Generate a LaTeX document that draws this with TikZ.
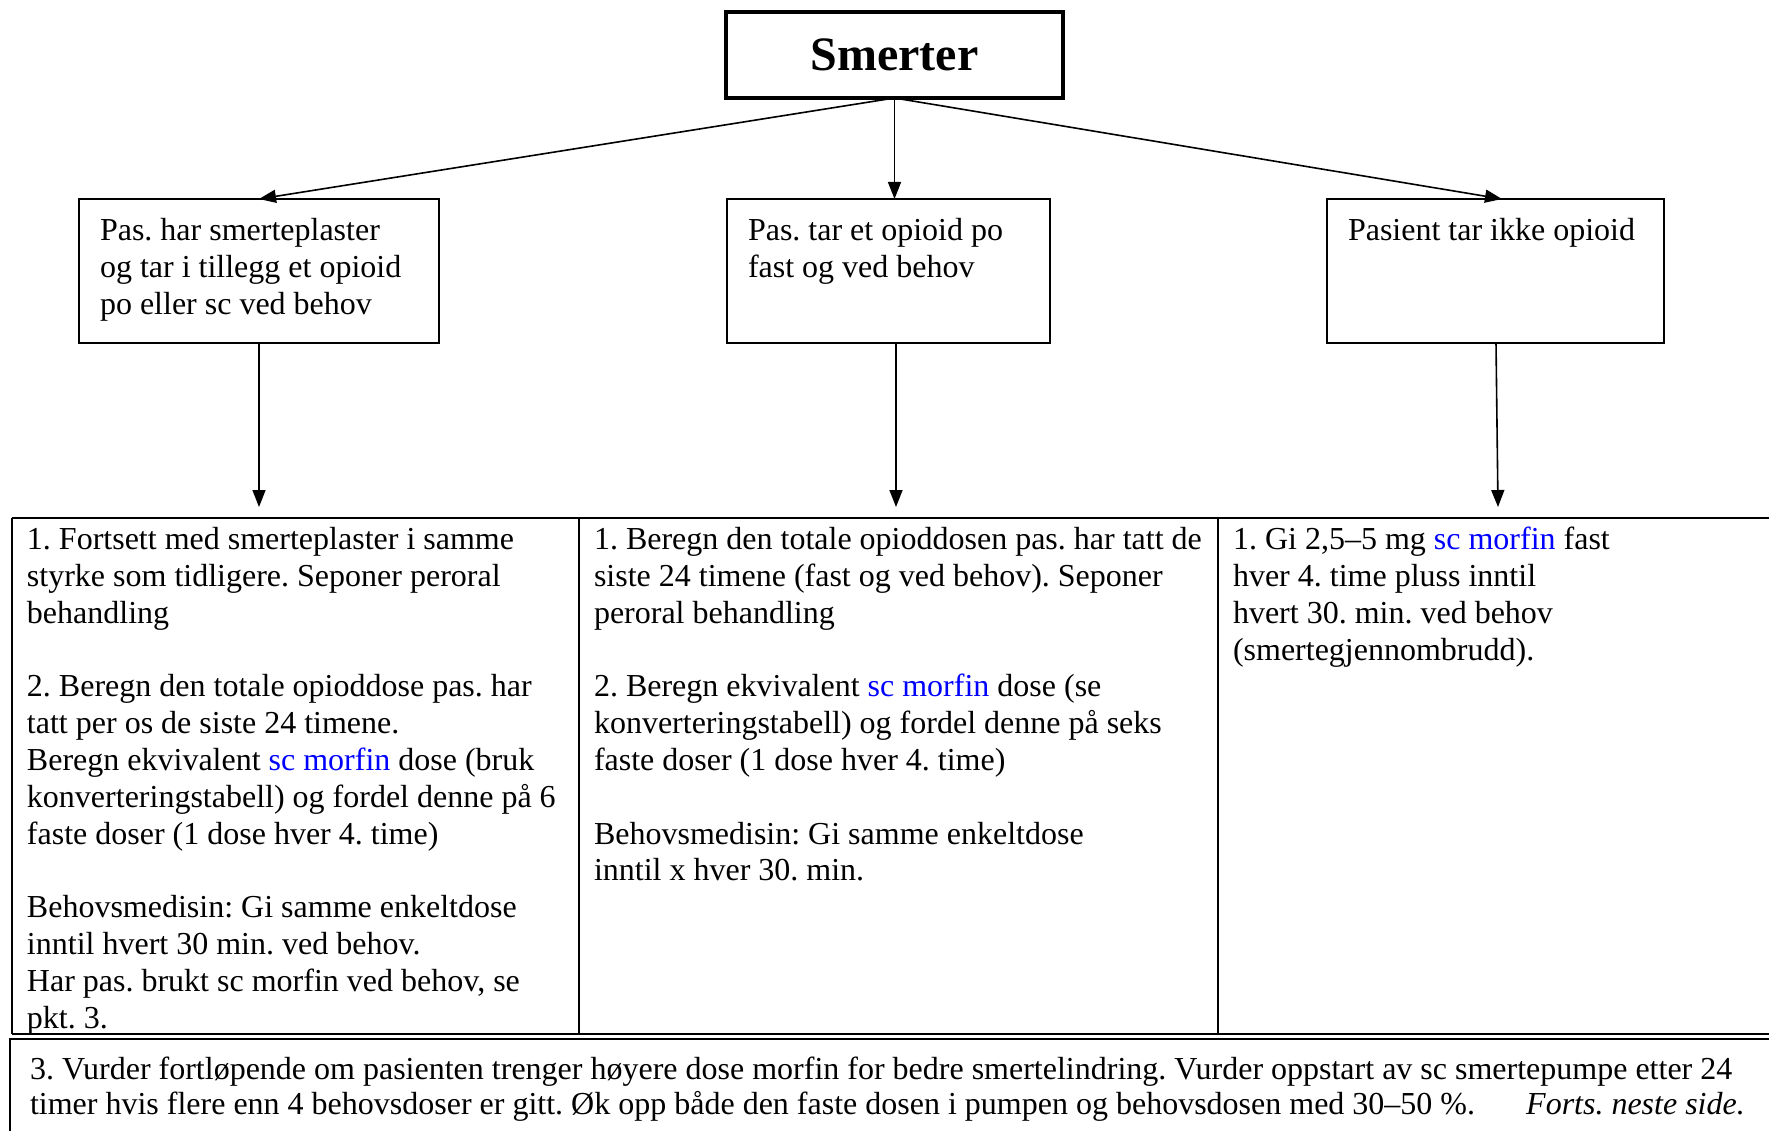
\documentclass[tikz,border=0pt]{standalone}
\usepackage{fontspec}
\setmainfont{Liberation Serif}
\usetikzlibrary{arrows.meta}
\definecolor{linkblue}{RGB}{0,0,255}
\newcommand{\scm}{\textcolor{linkblue}{sc morfin}}
\frenchspacing
\begin{document}
\begin{tikzpicture}[x=1pt,y=-1pt,
  boxstyle/.style={draw, line width=2pt, inner sep=0pt, outer sep=0pt, anchor=north west},
  txt/.style={inner sep=0pt, outer sep=0pt, anchor=north west, align=left, font=\frenchspacing\fontsize{32pt}{36.8pt}\selectfont},
  arr/.style={line width=1.6pt, -{Triangle[length=17pt,width=13pt]}},
  tline/.style={line width=2.6pt},
  vline/.style={line width=2pt}]
\useasboundingbox (0,0) rectangle (1769,1131);
\clip (0,0) rectangle (1769,1131);
\fill[white] (0,0) rectangle (1769,1131);

% title box
\node[draw, line width=4pt, inner sep=0pt, outer sep=0pt, minimum width=337pt, minimum height=86pt,
  font=\fontsize{48pt}{55pt}\selectfont\bfseries] (top) at (894.5,55) {Smerter};

% three boxes
\node[boxstyle, minimum width=360pt, minimum height=144pt] (lbox) at (79,199) {};
\node[boxstyle, minimum width=323pt, minimum height=144pt] (mbox) at (727,199) {};
\node[boxstyle, minimum width=337pt, minimum height=144pt] (rbox) at (1327,199) {};

\node[txt] (ltxt) at (100,215) {\strut Pas. har smerteplaster\\og tar i tillegg et opioid\\po eller sc ved behov};
\node[txt] (mtxt) at (748,215) {\strut Pas. tar et opioid po\\fast og ved behov};
\node[txt] (rtxt) at (1348,215) {\strut Pasient tar ikke opioid};

% arrows from title
\draw[arr] (top.south) -- (lbox.north);
\draw[arr] (top.south) -- (top.south |- mbox.north);
\draw[arr] (top.south) -- ([xshift=6.5pt]rbox.north);

% arrow end points
\coordinate (la) at (259,507);
\coordinate (ma) at (896,507);
\coordinate (ra) at (1498,507);
\draw[arr] (lbox.south) -- (la);
\draw[arr] ([xshift=7.5pt]mbox.south) -- (ma);
\draw[arr] ([xshift=0.5pt]rbox.south) -- (ra);

% table
\draw[tline] (12,518) -- (1800,518);
\draw[tline] (12,1034) -- (1800,1034);
\draw[vline] (12,518) -- (12,1034);
\draw[vline] (579,518) -- (579,1034);
\draw[vline] (1218,518) -- (1218,1034);

% bottom box
\draw[tline] (10,1200) -- (10,1039) -- (1800,1039);

\node[txt] (c1) at (27,524) {\strut 1. Fortsett med smerteplaster i samme\\
styrke som tidligere. Seponer peroral\\
behandling\\[36.8pt]
2. Beregn den totale opioddose pas. har\\
tatt per os de siste 24 timene.\\
Beregn ekvivalent \scm{} dose (bruk\\
konverteringstabell) og fordel denne på 6\\
faste doser (1 dose hver 4. time)\\[36.8pt]
Behovsmedisin: Gi samme enkeltdose\\
inntil hvert 30 min. ved behov.\\
Har pas. brukt sc morfin ved behov, se\\
pkt. 3.};

\node[txt] (c2) at (594,524) {\strut 1. Beregn den totale opioddosen pas. har tatt de\\
siste 24 timene (fast og ved behov). Seponer\\
peroral behandling\\[36.8pt]
2. Beregn ekvivalent \scm{} dose (se\\
konverteringstabell) og fordel denne på seks\\
faste doser (1 dose hver 4. time)\\[36.8pt]
Behovsmedisin: Gi samme enkeltdose\\
inntil x hver 30. min.};

\node[txt] (c3) at (1233,524) {\strut 1. Gi 2,5–5 mg \scm{} fast\\
hver 4. time pluss inntil\\
hvert 30. min. ved behov\\
(smertegjennombrudd).};

\node[txt, font=\frenchspacing\fontsize{32pt}{35pt}\selectfont] (bot) at (30,1055) {\strut 3. Vurder fortløpende om pasienten trenger høyere dose morfin for bedre smertelindring. Vurder oppstart av sc smertepumpe etter 24\\
timer hvis flere enn 4 behovsdoser er gitt. Øk opp både den faste dosen i pumpen og behovsdosen med 30–50 \%.\hspace{1.6em}\textit{Forts. neste side.}};
\end{tikzpicture}
\end{document}
